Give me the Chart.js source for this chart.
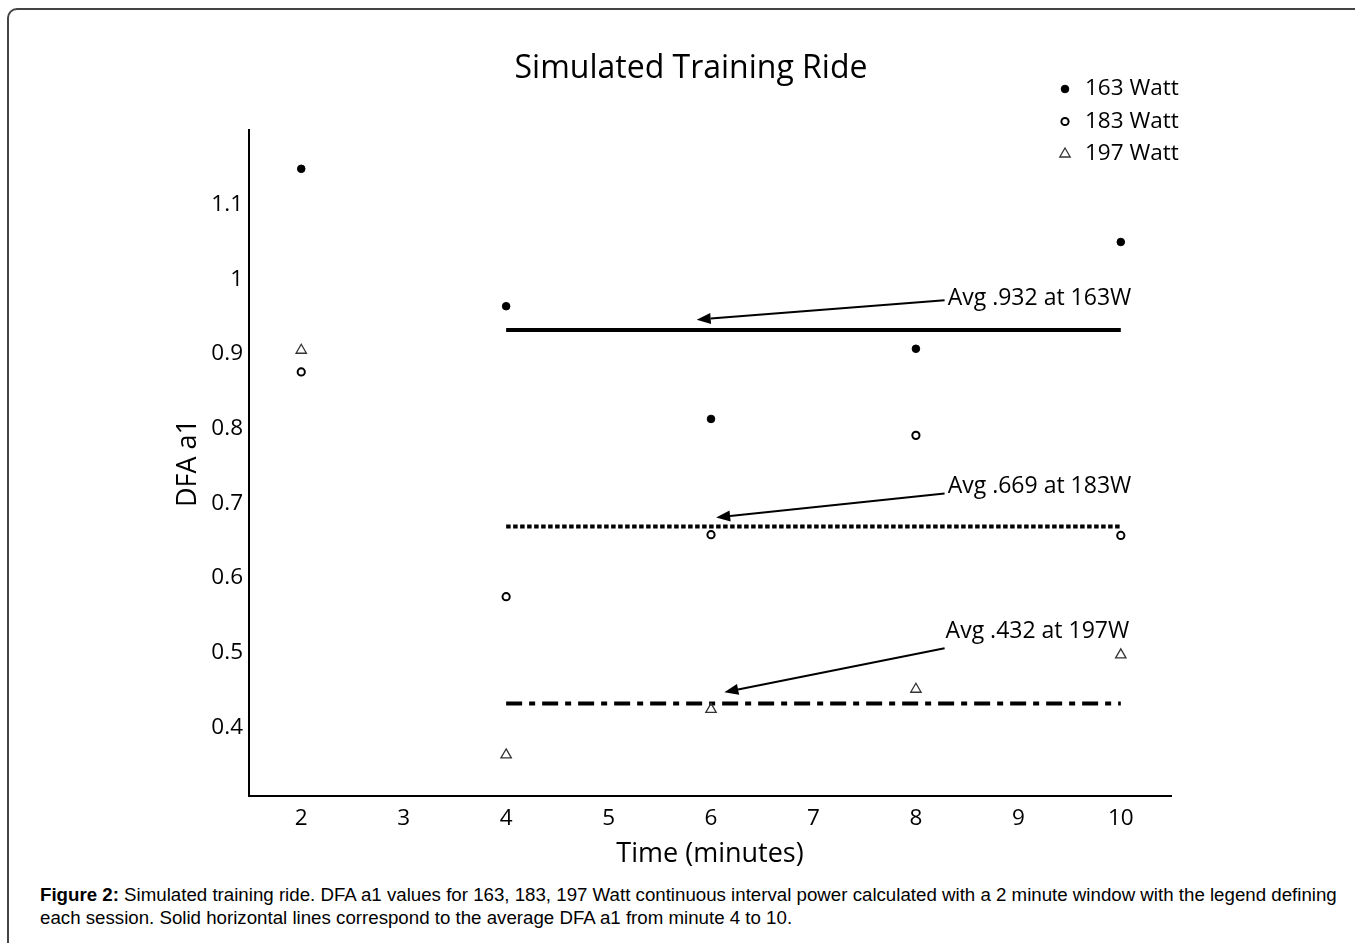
<!DOCTYPE html>
<html>
<head>
<meta charset="utf-8">
<script src="https://cdn.jsdelivr.net/npm/chart.js@4.4.0/dist/chart.umd.min.js"></script>
<style>
  body { margin: 0; background: #fff; width: 1355px; height: 943px; overflow: hidden; position: relative; }
  #frame { position: absolute; left: 7px; top: 8px; width: 1400px; height: 1000px; border: 2px solid #444; border-radius: 10px; }
  #c { position: absolute; left: 0; top: 0; }
  #caption { position: absolute; left: 40px; top: 883px; font-family: 'Liberation Sans', Arial, sans-serif; font-size: 18.7px; line-height: 23px; color: #000; white-space: nowrap; }
</style>
</head>
<body>
<div id="frame"></div>
<canvas id="c" width="1355" height="880"></canvas>
<div id="caption"><b>Figure 2:</b> Simulated training ride. DFA a1 values for 163, 183, 197 Watt continuous interval power calculated with a 2 minute window with the legend defining<br>each session. Solid horizontal lines correspond to the average DFA a1 from minute 4 to 10.</div>
<script>
const minutes = [2, 4, 6, 8, 10];
const watt163 = [1.148, 0.964, 0.813, 0.907, 1.050];
const watt183 = [0.876, 0.575, 0.658, 0.791, 0.657];
const watt197 = [0.905, 0.363, 0.424, 0.451, 0.497];

// averages over minute 4..10
const avgRange = [4, 10];
const avgValues = [0.932, 0.669, 0.432];
const avgLabels = ['Avg .932 at 163W', 'Avg .669 at 183W', 'Avg .432 at 197W'];
// annotation arrows, in data units
const arrowFrom = [[8.28, 0.972], [8.28, 0.713], [8.28, 0.506]];
const arrowTo = [[5.86, 0.946], [6.05, 0.681], [6.13, 0.447]];
const labelAt = [[8.31, 0.975], [8.31, 0.723], [8.29, 0.528]];

const xTicks = [2, 3, 4, 5, 6, 7, 8, 9, 10];
const yTicks = [0.4, 0.5, 0.6, 0.7, 0.8, 0.9, 1, 1.1];

const FONT = '"Open Sans", "Noto Sans", sans-serif';

function pts(ys) {
  return minutes.map((m, i) => ({ x: m, y: ys[i] }));
}
function avgLine(v) {
  return avgRange.map(m => ({ x: m, y: v }));
}

const overlay = {
  id: 'overlay',
  afterDatasetsDraw(chart) {
    const { ctx, scales: { x, y } } = chart;
    ctx.save();

    // title
    ctx.fillStyle = '#000';
    ctx.font = '32px ' + FONT;
    ctx.textAlign = 'center';
    ctx.textBaseline = 'middle';
    ctx.fillText('Simulated Training Ride', 691, 69);

    // legend (scatter series only)
    ctx.font = '22.5px ' + FONT;
    ctx.textAlign = 'left';
    chart.data.datasets.filter(d => d.inLegend).forEach((d, i) => {
      const ly = 89 + i * 32.5;
      ctx.fillStyle = d.backgroundColor;
      ctx.strokeStyle = d.borderColor;
      ctx.lineWidth = d.borderWidth;
      Chart.helpers.drawPoint(ctx, {
        pointStyle: d.pointStyle, radius: d.pointRadius, rotation: 0, borderWidth: d.borderWidth
      }, 1065, ly);
      ctx.fillStyle = '#000';
      ctx.fillText(d.label, 1085, ly);
    });

    // annotations with arrows
    avgLabels.forEach((txt, i) => {
      const x0 = x.getPixelForValue(arrowFrom[i][0]);
      const y0 = y.getPixelForValue(arrowFrom[i][1]);
      const x1 = x.getPixelForValue(arrowTo[i][0]);
      const y1 = y.getPixelForValue(arrowTo[i][1]);
      const ang = Math.atan2(y1 - y0, x1 - x0);
      const head = 14, half = 5.5;
      const bx = x1 - head * Math.cos(ang), by = y1 - head * Math.sin(ang);
      ctx.strokeStyle = '#000';
      ctx.lineWidth = 2;
      ctx.beginPath();
      ctx.moveTo(x0, y0);
      ctx.lineTo(bx, by);
      ctx.stroke();
      ctx.fillStyle = '#000';
      ctx.beginPath();
      ctx.moveTo(x1, y1);
      ctx.lineTo(bx + half * Math.sin(ang), by - half * Math.cos(ang));
      ctx.lineTo(bx - half * Math.sin(ang), by + half * Math.cos(ang));
      ctx.closePath();
      ctx.fill();

      ctx.font = '23px ' + FONT;
      ctx.textAlign = 'left';
      ctx.textBaseline = 'middle';
      ctx.fillText(txt, x.getPixelForValue(labelAt[i][0]), y.getPixelForValue(labelAt[i][1]));
    });
    ctx.restore();
  }
};

new Chart(document.getElementById('c'), {
  type: 'scatter',
  data: {
    datasets: [
      {
        label: '163 Watt', data: pts(watt163), inLegend: true,
        pointStyle: 'circle', pointRadius: 3.8, backgroundColor: '#000', borderColor: '#000', borderWidth: 1
      },
      {
        label: '183 Watt', data: pts(watt183), inLegend: true,
        pointStyle: 'circle', pointRadius: 3.6, backgroundColor: '#fff', borderColor: '#000', borderWidth: 2
      },
      {
        label: '197 Watt', data: pts(watt197), inLegend: true,
        pointStyle: 'triangle', pointRadius: 6, backgroundColor: 'rgba(0,0,0,0)', borderColor: '#333', borderWidth: 1.3
      },
      {
        label: 'avg163', data: avgLine(avgValues[0]), showLine: true, pointRadius: 0,
        borderColor: '#000', borderWidth: 4
      },
      {
        label: 'avg183', data: avgLine(avgValues[1]), showLine: true, pointRadius: 0,
        borderColor: '#000', borderWidth: 4, borderDash: [4.5, 2.5]
      },
      {
        label: 'avg197', data: avgLine(avgValues[2]), showLine: true, pointRadius: 0,
        borderColor: '#000', borderWidth: 4, borderDash: [16, 7, 6, 7]
      }
    ]
  },
  options: {
    responsive: false,
    animation: false,
    devicePixelRatio: 1,
    layout: { padding: { left: 160, right: 184, top: 130, bottom: 0 } },
    plugins: {
      legend: { display: false },
      title: { display: false },
      tooltip: { enabled: false }
    },
    scales: {
      x: {
        type: 'linear',
        min: 1.49,
        max: 10.49,
        afterBuildTicks: (s) => { s.ticks = xTicks.map(v => ({ value: v })); },
        afterFit: (s) => { s.height = 84; },
        grid: { display: false, drawTicks: false, tickLength: 0 },
        border: { display: true, color: '#000', width: 2 },
        ticks: { color: '#000', font: { family: FONT, size: 22.5 }, padding: 9.5, callback: v => String(v) },
        title: { display: true, text: 'Time (minutes)', color: '#000', font: { family: FONT, size: 27 }, padding: { top: 0, bottom: 9 } }
      },
      y: {
        type: 'linear',
        min: 0.308,
        max: 1.2,
        afterBuildTicks: (s) => { s.ticks = yTicks.map(v => ({ value: v })); },
        afterFit: (s) => { s.width = 89; },
        grid: { display: false, drawTicks: false, tickLength: 0 },
        border: { display: true, color: '#000', width: 2 },
        ticks: { color: '#000', font: { family: FONT, size: 22.5 }, padding: 6, callback: v => String(v) },
        title: { display: true, text: 'DFA a1', color: '#000', font: { family: FONT, size: 27 }, padding: { top: 12, bottom: 0 } }
      }
    }
  },
  plugins: [overlay]
});
</script>
</body>
</html>
